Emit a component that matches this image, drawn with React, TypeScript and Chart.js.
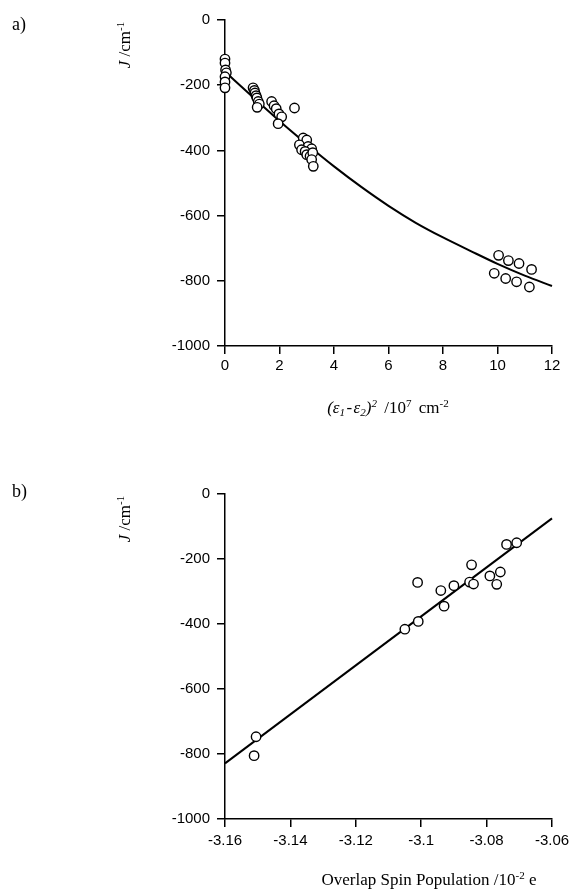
import React, { useEffect, useRef } from "react";
import { Chart, registerables } from "chart.js";

Chart.register(...registerables);

// ---- Panel a data ----
const aPointsX = [0, 0, 0.02, 0.05, 0, 0, 0,
  1.03, 1.08, 1.1, 1.14, 1.17, 1.22, 1.26, 1.18,
  1.71, 1.8, 1.88, 1.98, 2.08, 1.95,
  2.55,
  2.87, 3.0, 2.73, 3.05, 3.18, 2.81, 2.94, 3.0, 3.12, 3.22, 3.18, 3.24,
  10.04, 10.4, 10.79, 11.25, 9.88, 10.3, 10.7, 11.17];
const aPointsY = [-120, -132, -153, -162, -174, -190, -208,
  -208, -216, -224, -232, -239, -250, -258, -268,
  -250, -263, -272, -288, -297, -318,
  -270,
  -362, -368, -383, -388, -395, -398, -403, -413, -418, -407, -428, -449,
  -722, -738, -747, -765, -777, -793, -803, -819];
const aCurveX = [0, 1, 2, 3, 4, 5, 6, 7, 8, 9, 10, 11, 12];
const aCurveY = [-158, -235, -310, -381, -449, -512, -570, -622, -667, -708, -748, -784, -816];
const aXTicks = [0, 2, 4, 6, 8, 10, 12];

// ---- Panel b data ----
const bPointsX = [-3.1505, -3.1511, -3.105, -3.1009, -3.1011, -3.094, -3.093, -3.09,
  -3.0846, -3.0852, -3.084, -3.079, -3.0769, -3.0758, -3.0739, -3.0708];
const bPointsY = [-747, -805, -416, -392, -272, -297, -345, -282,
  -218, -271, -277, -252, -278, -240, -155, -150];
const bLineX = [-3.16, -3.06];
const bLineY = [-829, -75];
const bXTicks = [-3.16, -3.14, -3.12, -3.1, -3.08, -3.06];

const yTicks = [0, -200, -400, -600, -800, -1000];

const tickFont = { family: "'Liberation Sans', Arial, sans-serif", size: 15 };
const serif = "'Liberation Serif', 'Times New Roman', serif";

function zip(xs: number[], ys: number[]) {
  return xs.map((x, i) => ({ x, y: ys[i] }));
}

function makeConfig(
  pts: { x: number; y: number }[],
  line: { x: number; y: number }[],
  xMin: number,
  xMax: number,
  xTicks: number[],
  padTop: number,
  xAxisHeight: number,
  xPad: number,
  smooth: boolean
): any {
  const axisCommon = {
    grid: {
      drawOnChartArea: false,
      drawTicks: true,
      tickLength: 8,
      color: "#000",
      lineWidth: 1.5,
    },
    border: { display: true, color: "#000", width: 1.5 },
  };
  return {
    type: "scatter",
    data: {
      datasets: [
        {
          type: "scatter",
          data: pts,
          pointStyle: "circle",
          pointRadius: 4.7,
          pointBorderWidth: 1.4,
          pointBorderColor: "#000",
          pointBackgroundColor: "#fff",
          clip: false,
          order: 1,
        },
        {
          type: "line",
          data: line,
          borderColor: "#000",
          borderWidth: 2,
          pointRadius: 0,
          fill: false,
          cubicInterpolationMode: smooth ? "monotone" : "default",
          tension: 0,
          clip: false,
          order: 2,
        },
      ],
    },
    options: {
      animation: false,
      responsive: false,
      maintainAspectRatio: false,
      layout: { padding: { top: padTop, right: 23, left: 0, bottom: 0 } },
      plugins: { legend: { display: false }, tooltip: { enabled: false } },
      scales: {
        x: {
          type: "linear",
          min: xMin,
          max: xMax,
          ...axisCommon,
          afterFit: (s: any) => {
            s.height = xAxisHeight;
          },
          afterBuildTicks: (s: any) => {
            s.ticks = xTicks.map((v) => ({ value: v }));
          },
          ticks: {
            font: tickFont,
            color: "#000",
            padding: xPad,
            maxRotation: 0,
            autoSkip: false,
            callback: (v: any) => String(parseFloat(Number(v).toFixed(2))),
          },
        },
        y: {
          type: "linear",
          min: -1000,
          max: 0,
          ...axisCommon,
          afterFit: (s: any) => {
            s.width = 225;
          },
          afterBuildTicks: (s: any) => {
            s.ticks = yTicks.map((v) => ({ value: v }));
          },
          ticks: {
            font: tickFont,
            color: "#000",
            padding: 7,
            autoSkip: false,
            callback: (v: any) => String(v),
          },
        },
      },
    },
  };
}

function ChartCanvas({ config, top, height }: { config: any; top: number; height: number }) {
  const ref = useRef<HTMLCanvasElement | null>(null);
  useEffect(() => {
    if (!ref.current) return;
    const chart = new Chart(ref.current, config);
    return () => chart.destroy();
  }, []);
  return (
    <canvas
      ref={ref}
      width={575}
      height={height}
      style={{ position: "absolute", left: 0, top, width: 575, height }}
    />
  );
}

const supStyle: React.CSSProperties = { fontSize: "0.65em", verticalAlign: "0.55em", lineHeight: 0 };
const subStyle: React.CSSProperties = { fontSize: "0.65em", verticalAlign: "-0.3em", lineHeight: 0 };

function YTitle({ cx, cy }: { cx: number; cy: number }) {
  return (
    <div
      style={{
        position: "absolute",
        left: cx - 40,
        top: cy - 10,
        width: 80,
        height: 20,
        lineHeight: "20px",
        textAlign: "center",
        fontFamily: serif,
        fontSize: 17,
        color: "#000",
        transform: "rotate(-90deg)",
        whiteSpace: "nowrap",
      }}
    >
      <i>J</i> /cm<span style={supStyle}>-1</span>
    </div>
  );
}

export default function App() {
  const cfgA = makeConfig(zip(aPointsX, aPointsY), zip(aCurveX, aCurveY), 0, 12, aXTicks, 20, 54, 3, true);
  const cfgB = makeConfig(zip(bPointsX, bPointsY), zip(bLineX, bLineY), -3.16, -3.06, bXTicks, 44, 51, 5, false);
  return (
    <div style={{ position: "absolute", left: 0, top: 0, width: 575, height: 893, background: "#fff" }}>
      <ChartCanvas config={cfgA} top={0} height={400} />
      <ChartCanvas config={cfgB} top={450} height={420} />
      <div style={{ position: "absolute", left: 12, top: 14, fontFamily: serif, fontSize: 18 }}>a)</div>
      <div style={{ position: "absolute", left: 12, top: 481, fontFamily: serif, fontSize: 18 }}>b)</div>
      <YTitle cx={125} cy={45} />
      <YTitle cx={125} cy={519} />
      <div
        style={{
          position: "absolute",
          left: 238,
          width: 300,
          top: 398,
          textAlign: "center",
          fontFamily: serif,
          fontSize: 17,
          whiteSpace: "nowrap",
          wordSpacing: 3,
        }}
      >
        <i>
          (ε<span style={subStyle}>1</span>&#8202;-&#8202;ε<span style={subStyle}>2</span>)<span style={supStyle}>2</span>
        </i>{" "}
        /10<span style={supStyle}>7</span> cm<span style={supStyle}>-2</span>
      </div>
      <div
        style={{
          position: "absolute",
          left: 279,
          width: 300,
          top: 870,
          textAlign: "center",
          fontFamily: serif,
          fontSize: 17,
          whiteSpace: "nowrap",
        }}
      >
        Overlap Spin Population /10<span style={supStyle}>-2</span> e
      </div>
    </div>
  );
}
